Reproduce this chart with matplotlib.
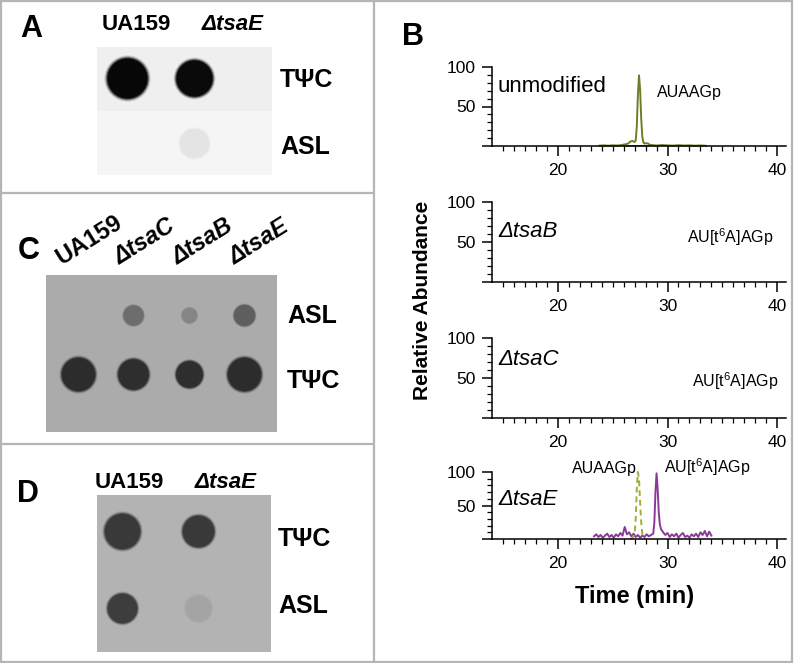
import numpy as np
import matplotlib
matplotlib.use("Agg")
import matplotlib.pyplot as plt

plt.rcParams["font.family"] = ["Liberation Sans", "DejaVu Sans"]
plt.rcParams["mathtext.fontset"] = "custom"
plt.rcParams["mathtext.rm"] = "Liberation Sans"
plt.rcParams["mathtext.it"] = "Liberation Sans:italic"
plt.rcParams["mathtext.bf"] = "Liberation Sans:bold"

W, H = 800, 663

# ---- dot blots: signal = darkness above membrane, spot = spot diameter (px)
blot_a_lanes = ["UA159", "ΔtsaE"]
blot_a_rows = ["TΨC", "ASL"]
blot_a_signal = [[0.97, 0.96], [0.0, 0.07]]
blot_a_spot = [[42, 38], [0, 30]]

blot_c_lanes = ["UA159", "ΔtsaC", "ΔtsaB", "ΔtsaE"]
blot_c_rows = ["ASL", "TΨC"]
blot_c_signal = [[0.0, 0.36, 0.22, 0.45], [0.74, 0.73, 0.73, 0.74]]
blot_c_spot = [[0, 21, 16, 22], [35, 32, 28, 35]]

blot_d_lanes = ["UA159", "ΔtsaE"]
blot_d_rows = ["TΨC", "ASL"]
blot_d_signal = [[0.68, 0.68], [0.66, 0.08]]
blot_d_spot = [[37, 33], [31, 27]]

# ---- LC-MS traces (time in min, relative abundance in %)
unmod_t = [23.8, 24.2, 24.6, 25.0, 25.4, 25.8, 26.1, 26.4, 26.6, 26.8, 27.0,
           27.1, 27.2, 27.3, 27.4, 27.5, 27.6, 27.7, 27.8, 27.9, 28.0, 28.2,
           28.4, 28.7, 29.0, 29.5, 30.0, 30.5, 31.0, 31.5, 32.0, 32.5, 33.0, 33.5]
unmod_auaag = [0.5, 0.8, 0.4, 0.9, 0.6, 1.2, 2.0, 3.0, 5.5, 6.5, 5.0,
               7.0, 25, 65, 89.5, 72, 35, 12, 4.5, 3.0, 3.5, 3.2,
               1.5, 1.0, 0.6, 1.2, 0.8, 0.5, 1.0, 0.6, 0.8, 0.4, 0.7, 0.3]
unmod_t6a_t = [26.0, 26.5, 27.0, 27.5, 28.0, 28.3]
unmod_t6a = [0.3, 0.2, 0.4, 0.3, 0.2, 0.3]

tsae_auaag_t = [26.6, 26.8, 27.0, 27.1, 27.2, 27.3, 27.4, 27.5, 27.6, 27.7, 27.8, 28.0]
tsae_auaag = [0, 1, 8, 30, 75, 100, 90, 55, 25, 8, 2, 0]

tsae_t6a_t = [23.3, 23.5, 23.7, 23.9, 24.1, 24.3, 24.5, 24.7, 24.9, 25.1,
              25.3, 25.5, 25.7, 25.9, 26.1, 26.3, 26.5, 26.7, 26.9, 27.1,
              27.3, 27.5, 27.7, 27.9, 28.1, 28.3, 28.5, 28.7,
              28.8, 28.9, 29.0, 29.1, 29.2, 29.3, 29.4,
              29.6, 29.8, 30.0, 30.2, 30.4, 30.6, 30.8, 31.0, 31.2, 31.4,
              31.6, 31.8, 32.0, 32.2, 32.4, 32.6, 32.8, 33.0, 33.2, 33.4,
              33.6, 33.8, 34.0]
tsae_t6a = [4, 7, 3, 6, 2, 5, 8, 3, 6, 2,
            7, 4, 9, 5, 18, 7, 10, 4, 8, 3,
            6, 2, 5, 3, 7, 4, 6, 8,
            25, 70, 98, 75, 40, 22, 15,
            10, 6, 9, 3, 7, 4, 8, 2, 6, 9,
            3, 5, 2, 7, 4, 8, 3, 10, 6, 12,
            4, 11, 5]

trace_names = ["unmodified", "ΔtsaB", "ΔtsaC", "ΔtsaE"]

GREEN = "#6f7d26"
GREEN_DASH = "#a3ad3a"
PURPLE = "#8a3a96"
BORDER = "#b5b5b5"


def px_axes(fig, x0, y0, x1, y1, **kw):
    return fig.add_axes([x0 / W, 1 - y1 / H, (x1 - x0) / W, (y1 - y0) / H], **kw)


def draw_blot(fig, box, lane_px, row_px, signal, spot, bg):
    x0, y0, x1, y1 = box
    ax = px_axes(fig, x0, y0, x1, y1)
    dx = lane_px[1] - lane_px[0]
    dy = row_px[1] - row_px[0]
    ax.set_xlim((x0 - lane_px[0]) / dx, (x1 - lane_px[0]) / dx)
    ax.set_ylim((y1 - row_px[0]) / dy, (y0 - row_px[0]) / dy)
    ax.set_facecolor(str(bg))
    ax.set_xticks([])
    ax.set_yticks([])
    for s in ax.spines.values():
        s.set_visible(False)
    sig = np.array(signal, dtype=float)
    dia = np.array(spot, dtype=float)
    for r in range(sig.shape[0]):
        for c in range(sig.shape[1]):
            if dia[r, c] <= 0 or sig[r, c] <= 0:
                continue
            g = bg * (1 - sig[r, c])
            col = (g, g, g)
            # soft edge: a few fading rings, then the core
            for f, a in [(1.10, 0.15), (1.05, 0.3), (1.0, 0.6), (0.95, 1.0)]:
                s = (dia[r, c] * f * 0.72) ** 2
                ax.scatter([c], [r], s=s, color=col, alpha=a, linewidths=0)
    return ax


fig = plt.figure(figsize=(W / 100, H / 100), dpi=100)

# blots
ax_a = draw_blot(fig, (97, 47, 272, 175), [127, 194], [78, 143],
                 blot_a_signal, blot_a_spot, 0.96)
ax_a.axhspan(-0.48, 0.5, color="#efefef", zorder=0, lw=0)
draw_blot(fig, (46, 275, 277, 432), [78, 133.3], [315, 374],
          blot_c_signal, blot_c_spot, 0.67)
draw_blot(fig, (97, 495, 271, 652), [122, 198], [531, 608],
          blot_d_signal, blot_d_spot, 0.70)

# chromatograms
trace_boxes = [(492, 67, 786, 146), (492, 202, 786, 282),
               (492, 338, 786, 418), (492, 472, 786, 539)]
trace_axes = []
for box in trace_boxes:
    ax = px_axes(fig, *box)
    ax.set_facecolor("none")
    ax.set_xlim(14, 40.8)
    ax.set_ylim(0, 100)
    ax.spines["top"].set_visible(False)
    ax.spines["right"].set_visible(False)
    ax.spines["left"].set_bounds(0, 100)
    for s in ("left", "bottom"):
        ax.spines[s].set_linewidth(1.1)
    ax.set_xticks([20, 30, 40])
    ax.set_xticks(np.arange(15, 41, 1), minor=True)
    ax.set_yticks([0, 50, 100])
    ax.set_yticklabels(["", "50", "100"])
    ax.set_yticks(np.arange(0, 101, 10), minor=True)
    ax.tick_params(which="major", direction="out", length=7, width=1.1,
                   labelsize=12.5, pad=5)
    ax.tick_params(which="minor", direction="out", length=3.5, width=0.9)
    trace_axes.append(ax)

ax1, ax2, ax3, ax4 = trace_axes
ax1.plot(unmod_t6a_t, unmod_t6a, color=PURPLE, lw=1.0, clip_on=False)
ax1.plot(unmod_t, unmod_auaag, color=GREEN, lw=1.4, clip_on=False)
ax4.plot(tsae_t6a_t, tsae_t6a, color=PURPLE, lw=1.4, clip_on=False)
ax4.plot(tsae_auaag_t, tsae_auaag, color=GREEN_DASH, lw=1.4,
         linestyle=(0, (3, 2)), clip_on=False)

ax1.text(14.5, 68, trace_names[0], fontsize=16, va="baseline")
ax2.text(14.6, 56, trace_names[1], fontsize=16, style="italic", va="baseline")
ax3.text(14.6, 66, trace_names[2], fontsize=16, style="italic", va="baseline")
ax4.text(14.6, 51, trace_names[3], fontsize=16, style="italic", va="baseline")
ax1.text(29.0, 62, "AUAAGp", fontsize=11.5, va="baseline")
ax2.text(31.8, 49, "AU[t$^6$A]AGp", fontsize=11.5, va="baseline")
ax3.text(32.2, 39, "AU[t$^6$A]AGp", fontsize=11.5, va="baseline")
ax4.text(27.2, 99, "AUAAGp", fontsize=11.5, va="baseline", ha="right")
ax4.text(29.7, 99, "AU[t$^6$A]AGp", fontsize=11.5, va="baseline")

# frame, panel letters and labels in pixel coordinates
frame = fig.add_axes([0, 0, 1, 1], zorder=10)
frame.set_xlim(0, W)
frame.set_ylim(H, 0)
frame.set_facecolor("none")
frame.axis("off")
lk = dict(color=BORDER, lw=1.6, solid_capstyle="butt")
frame.plot([1, 1], [0, H], **lk)
frame.plot([0, 792], [1, 1], **lk)
frame.plot([792, 792], [0, H], **lk)
frame.plot([0, 792], [662, 662], **lk)
frame.plot([374, 374], [0, H], **lk)
frame.plot([0, 374], [193, 193], **lk)
frame.plot([0, 374], [444, 444], **lk)

bold = dict(fontweight="bold", va="baseline")
for letter, x, y in [("A", 20, 37), ("B", 402, 45), ("C", 18, 259), ("D", 17, 502)]:
    frame.text(x, y, letter, fontsize=22, **bold)

# panel A
frame.text(102, 30, blot_a_lanes[0], fontsize=16, **bold)
frame.text(202, 30, blot_a_lanes[1], fontsize=16, style="italic", **bold)
frame.text(280, 87, blot_a_rows[0], fontsize=18, **bold)
frame.text(280, 154, blot_a_rows[1], fontsize=18, **bold)

# panel C
for name, x in zip(blot_c_lanes, [62, 120, 178, 235]):
    frame.text(x, 265, name, fontsize=17, rotation=32, rotation_mode="anchor",
               ha="left", style="normal" if name == "UA159" else "italic", **bold)
frame.text(287, 323, blot_c_rows[0], fontsize=18, **bold)
frame.text(287, 388, blot_c_rows[1], fontsize=18, **bold)

# panel D
frame.text(95, 488, blot_d_lanes[0], fontsize=16, **bold)
frame.text(195, 488, blot_d_lanes[1], fontsize=16, style="italic", **bold)
frame.text(278, 546, blot_d_rows[0], fontsize=18, **bold)
frame.text(278, 613, blot_d_rows[1], fontsize=18, **bold)

# panel B axis titles
frame.text(422, 300, "Relative Abundance", fontsize=15, fontweight="bold",
           rotation=90, ha="center", va="center")
frame.text(635, 603, "Time (min)", fontsize=17, fontweight="bold",
           ha="center", va="baseline")

fig.savefig("out.png", dpi=100)
plt.close(fig)
